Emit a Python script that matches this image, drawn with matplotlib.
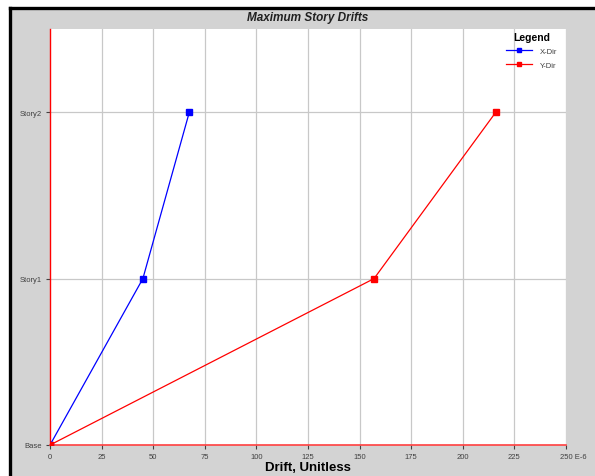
import matplotlib
matplotlib.use("Agg")
import matplotlib.pyplot as plt
from matplotlib.patches import Rectangle
from matplotlib.lines import Line2D
import matplotlib.transforms as mtransforms

stories = ["Base", "Story1", "Story2"]
story_levels = [0, 1, 2]
x_dir = [0, 45, 67.5]
y_dir = [0, 157, 216]
x_ticks = [0, 25, 50, 75, 100, 125, 150, 175, 200, 225, 250]

plt.rcParams['font.family'] = ['Liberation Sans', 'DejaVu Sans']

W, H = 595, 477
fig = plt.figure(figsize=(W/100, H/100), dpi=100)
fig.patch.set_facecolor('white')
# gray panel with black border
fig.patches.append(Rectangle((10/W, 0), 1, 1 - 9/H, transform=fig.transFigure,
                             facecolor='#d3d3d3', edgecolor='none', zorder=-2))
fig.lines.append(Line2D([9.5/W, 1], [1 - 8.5/H, 1 - 8.5/H], transform=fig.transFigure,
                        color='black', lw=2.4))
fig.lines.append(Line2D([9.5/W, 9.5/W], [0, 1 - 8.5/H], transform=fig.transFigure,
                        color='black', lw=2.4))

ax = fig.add_axes([50/W, 31/H, 516/W, 416/H])
ax.set_facecolor('white')
ax.set_xlim(0, 250)
ax.set_ylim(0, 2.5)

for xv in x_ticks[1:]:
    ax.axvline(xv, color='#c8c8c8', lw=0.9, zorder=0)
for yv in story_levels[1:]:
    ax.axhline(yv, color='#c8c8c8', lw=0.9, zorder=0)

ax.plot(x_dir, story_levels, color='#0000ff', lw=0.9, marker='s', ms=4,
        markerfacecolor='#0000ff', markeredgecolor='#0000ff', label='X-Dir', zorder=3)
ax.plot(y_dir, story_levels, color='#ff0000', lw=0.9, marker='s', ms=4,
        markerfacecolor='#ff0000', markeredgecolor='#ff0000', label='Y-Dir', zorder=3)

for s in ['top', 'right']:
    ax.spines[s].set_visible(False)
ax.spines['left'].set_color('#ff0000')
ax.spines['bottom'].set_color('#ff4040')
ax.spines['left'].set_linewidth(1.0)
ax.spines['bottom'].set_linewidth(1.2)

ax.set_xticks(x_ticks)
ax.set_xticklabels([str(v) if v != 250 else "250 E-6" for v in x_ticks])
ax.set_yticks(story_levels)
ax.set_yticklabels(stories)
ax.tick_params(axis='both', labelsize=5.5, colors='#404040', length=3, width=0.8,
               labelcolor='#404040', pad=3)
lab = ax.get_xticklabels()[-1]
lab.set_ha('left')
lab.set_transform(lab.get_transform() + mtransforms.ScaledTranslation(-6/100, 0, fig.dpi_scale_trans))

ax.set_xlabel("Drift, Unitless", fontsize=9.5, fontweight='bold', labelpad=0.5)

fig.text(308/W, 1 - 18/H, "Maximum Story Drifts", ha='center', va='center',
         fontsize=8.5, fontweight='bold', fontstyle='italic', color='#202020')

leg = ax.legend(loc='upper right', bbox_to_anchor=(0.995, 1.007), title='Legend',
                frameon=False, fontsize=5.5, handlelength=3.5, borderpad=0.3,
                labelspacing=0.85, handletextpad=1.0, markerscale=0.85)
leg._legend_box.sep = 4
leg.get_title().set_fontweight('bold')
leg.get_title().set_fontsize(7.5)
for t in leg.get_texts():
    t.set_color('#404040')

fig.savefig("out.png", dpi=100)
